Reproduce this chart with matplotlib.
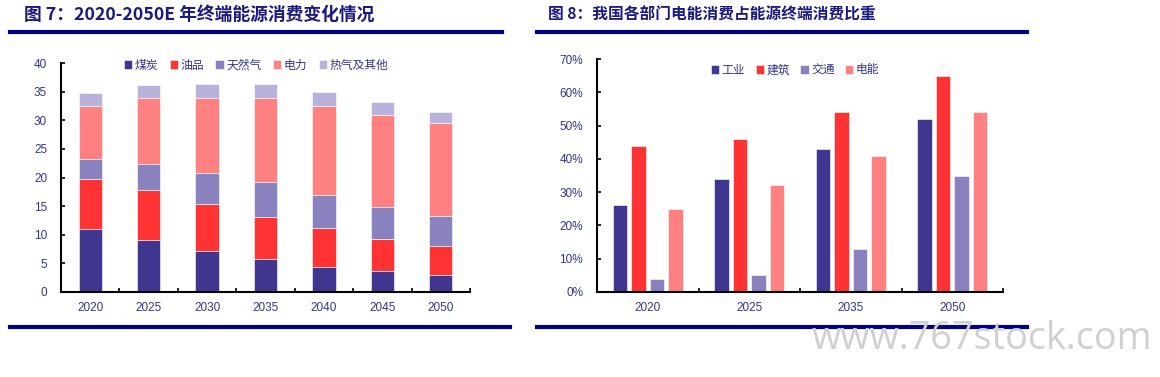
import matplotlib
matplotlib.use("Agg")
import matplotlib.pyplot as plt
import numpy as np
from matplotlib.lines import Line2D
from matplotlib.ticker import FuncFormatter

plt.rcParams['font.family'] = ['Liberation Sans', 'Noto Sans CJK SC', 'DejaVu Sans']

# --- data: figure 7 ---
years7 = ['2020', '2025', '2030', '2035', '2040', '2045', '2050']
coal = [11.0, 9.0, 7.2, 5.7, 4.4, 3.6, 3.0]
oil = [8.7, 8.8, 8.1, 7.4, 6.7, 5.7, 5.1]
gas = [3.5, 4.6, 5.5, 6.1, 5.8, 5.5, 5.1]
power = [9.3, 11.4, 13.1, 14.7, 15.6, 16.2, 16.4]
heat = [2.3, 2.4, 2.5, 2.5, 2.5, 2.2, 1.9]
names7 = ['煤炭', '油品', '天然气', '电力', '热气及其他']

# --- data: figure 8 ---
years8 = ['2020', '2025', '2035', '2050']
industry = [26, 34, 43, 52]
building = [44, 46, 54, 65]
transport = [4, 5, 13, 35]
elec = [25, 32, 41, 54]
names8 = ['工业', '建筑', '交通', '电能']

c_dark = '#40368f'
c_red = '#ff3333'
c_gas = '#8a82bf'
c_pink = '#ff8080'
c_light = '#b9b3db'
tick_col = '#33338a'
title_col = '#1c1a7e'
rule_col = '#000080'
cjk = ['Noto Sans CJK SC', 'DejaVu Sans']

fig = plt.figure(figsize=(11.6, 3.77), dpi=100)

def fx(px):
    return px / 1160.0

def fy(py):
    return 1 - py / 377.0

# titles and rules
fig.text(fx(24), fy(15), '图 7：2020-2050E 年终端能源消费变化情况', fontsize=12.8, fontweight='bold',
         color=title_col, va='center', ha='left', family=cjk)
fig.text(fx(548), fy(15), '图 8：我国各部门电能消费占能源终端消费比重', fontsize=11.3, fontweight='bold',
         color=title_col, va='center', ha='left', family=cjk)
for x0, x1, y in [(10, 502, 32), (537, 1027, 32), (10, 510, 327), (537, 1027, 327)]:
    fig.add_artist(Line2D([fx(x0), fx(x1)], [fy(y), fy(y)], color=rule_col, lw=3))

fig.text(fx(812), fy(339), 'www.767stock.com', fontsize=27.2, color='#d0d0d0',
         va='center', ha='left', family=['Open Sans', 'DejaVu Sans'])

def style_axes(ax, n):
    for s in ['top', 'right']:
        ax.spines[s].set_visible(False)
    for s in ['left', 'bottom']:
        ax.spines[s].set_linewidth(1.5)
        ax.spines[s].set_color('black')
    ax.set_xlim(-0.5, n - 0.5)
    ax.set_xticks(np.arange(n))
    ax.set_xticks(np.arange(n + 1) - 0.5, minor=True)
    ax.tick_params(axis='x', which='major', length=0, pad=7, labelsize=8.5, labelcolor=tick_col)
    ax.tick_params(axis='x', which='minor', direction='in', length=3, width=1.2)
    ax.tick_params(axis='y', direction='in', length=3, width=1.2, pad=10, labelsize=8.5, labelcolor=tick_col)

# --- figure 7 ---
ax1 = fig.add_axes([fx(61), fy(292), fx(470 - 61), (292 - 63) / 377.0])
x7 = np.arange(len(years7))
bottom = np.zeros(len(years7))
cols7 = [c_dark, c_red, c_gas, c_pink, c_light]
for vals, col, nm in zip([coal, oil, gas, power, heat], cols7, names7):
    ax1.bar(x7, vals, 0.4, bottom=bottom, color=col, edgecolor='white', linewidth=0.4, label=nm)
    bottom += np.array(vals)
style_axes(ax1, len(years7))
ax1.set_xticklabels(years7)
ax1.set_ylim(0, 40)
ax1.set_yticks(np.arange(0, 41, 5))
ax1.legend(loc='center', bbox_to_anchor=(fx(256), fy(65)), bbox_transform=fig.transFigure,
           ncol=5, frameon=False, handlelength=0.7, handleheight=0.7,
           handletextpad=0.2, columnspacing=1.0, labelcolor=tick_col,
           prop={'family': cjk, 'size': 8.5})

# --- figure 8 ---
ax2 = fig.add_axes([fx(597), fy(292), fx(1003 - 597), (292 - 59) / 377.0])
x8 = np.arange(len(years8))
w = 0.14
step = 0.182
cols8 = [c_dark, c_red, c_gas, c_pink]
for i, (vals, col, nm) in enumerate(zip([industry, building, transport, elec], cols8, names8)):
    ax2.bar(x8 + (i - 1.5) * step, vals, w, color=col, edgecolor='white', linewidth=0.4, label=nm)
style_axes(ax2, len(years8))
ax2.set_xticklabels(years8)
ax2.set_ylim(0, 70)
ax2.set_yticks(np.arange(0, 71, 10))
ax2.yaxis.set_major_formatter(FuncFormatter(lambda v, p: '%d%%' % v))
ax2.legend(loc='center', bbox_to_anchor=(fx(795), fy(70)), bbox_transform=fig.transFigure,
           ncol=4, frameon=False, handlelength=0.7, handleheight=0.7,
           handletextpad=0.2, columnspacing=0.9, labelcolor=tick_col,
           prop={'family': cjk, 'size': 8.5})

fig.savefig('out.png', dpi=100)
